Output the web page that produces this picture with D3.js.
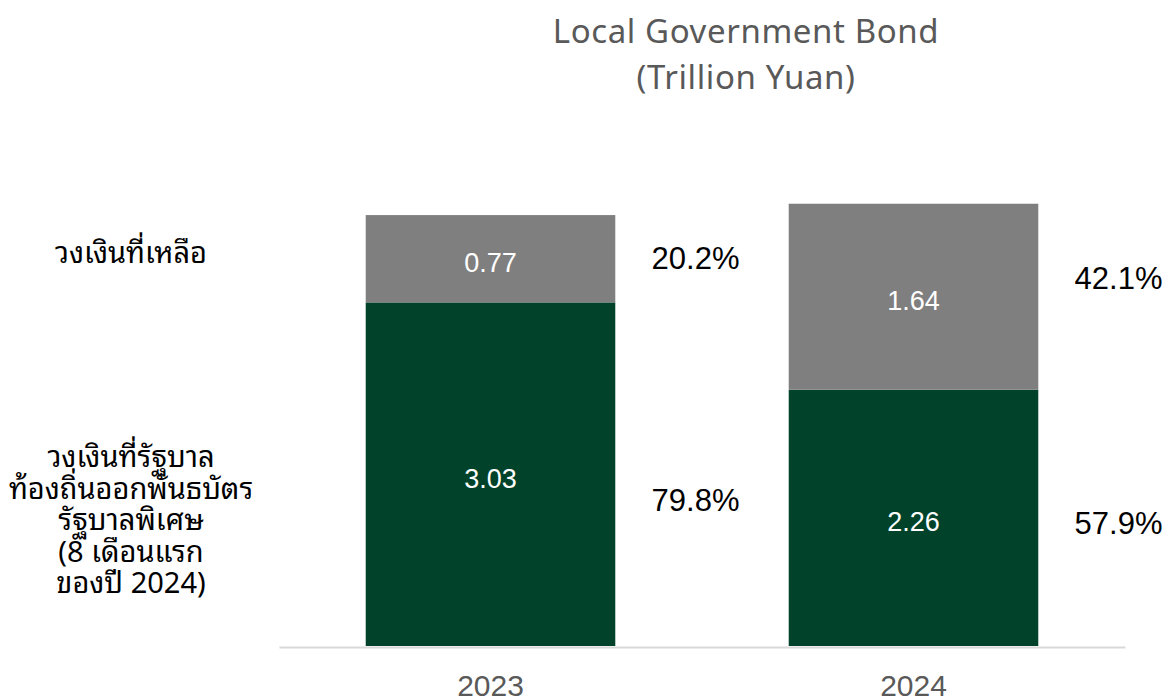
<!DOCTYPE html>
<html>
<head>
<meta charset="utf-8">
<script src="https://cdn.jsdelivr.net/npm/d3@7"></script>
<style>
  html, body { margin: 0; padding: 0; background: #fff; }
  svg { display: block; }
</style>
</head>
<body>
<svg id="chart" width="1176" height="700"></svg>
<script>
// Years on the x axis
const years = ["2023", "2024"];
// Quota already issued as special bonds (first 8 months), trillion yuan
const issued = [3.03, 2.26];
// Remaining quota, trillion yuan
const remaining = [0.77, 1.64];
// Shares of the total quota
const issuedPct = ["79.8%", "57.9%"];
const remainingPct = ["20.2%", "42.1%"];
// Row labels on the left
const remainingLabel = ["วงเงินที่เหลือ"];
const issuedLabel = ["วงเงินที่รัฐบาล", "ท้องถิ่นออกพันธบัตร", "รัฐบาลพิเศษ", "(8 เดือนแรก", "ของปี 2024)"];
const titleLines = ["Local Government Bond", "(Trillion Yuan)"];

const svg = d3.select("#chart");
const latin = "'Liberation Sans', 'Noto Sans', sans-serif";
const thai = "'Noto Sans Thai Looped', 'Noto Sans Thai', 'Noto Sans', sans-serif";

const x = d3.scaleBand()
  .domain(years)
  .range([279, 1125])
  .paddingInner(0.41)
  .paddingOuter(0.205);

const y = d3.scaleLinear()
  .domain([0, 4])
  .range([646, 192.4]);

// Stack: issued at the bottom, remaining on top
const rows = years.map((yr, i) => ({ year: yr, issued: issued[i], remaining: remaining[i] }));
const stack = d3.stack().keys(["issued", "remaining"])(rows);
const colors = { issued: "#00432a", remaining: "#7f7f7f" };

const layers = svg.append("g").selectAll("g")
  .data(stack)
  .join("g")
  .attr("fill", d => colors[d.key]);

layers.selectAll("rect")
  .data(d => d)
  .join("rect")
  .attr("x", d => x(d.data.year))
  .attr("width", x.bandwidth())
  .attr("y", d => y(d[1]))
  .attr("height", d => y(d[0]) - y(d[1]));

// Value labels inside the segments
layers.selectAll("text")
  .data(d => d.map(s => ({ s, key: d.key })))
  .join("text")
  .attr("x", d => x(d.s.data.year) + x.bandwidth() / 2)
  .attr("y", d => (y(d.s[0]) + y(d.s[1])) / 2)
  .attr("dy", "0.5em")
  .attr("text-anchor", "middle")
  .attr("fill", "#fff")
  .style("font-family", latin)
  .style("font-size", "27px")
  .text(d => d.s.data[d.key].toFixed(2));

// Share labels to the right of each bar (small vertical nudges per label)
const pctNudge = { issued: [26, 5], remaining: [-1, -19] };
const pctText = { issued: issuedPct, remaining: remainingPct };
stack.forEach(layer => {
  svg.append("g").selectAll("text")
    .data(layer)
    .join("text")
    .attr("x", (d, i) => x(d.data.year) + x.bandwidth() / 2 + 205)
    .attr("y", (d, i) => (y(d[0]) + y(d[1])) / 2 + pctNudge[layer.key][i])
    .attr("dy", "0.36em")
    .attr("text-anchor", "middle")
    .attr("fill", "#000")
    .style("font-family", latin)
    .style("font-size", "31px")
    .text((d, i) => pctText[layer.key][i]);
});

// Baseline axis
const xAxis = svg.append("g")
  .attr("transform", `translate(0,${y(0) + 1})`)
  .call(d3.axisBottom(x).tickSize(0).tickPadding(28));
xAxis.select(".domain").attr("stroke", "#d9d9d9").attr("stroke-width", 2);
xAxis.selectAll("text")
  .attr("fill", "#595959")
  .style("font-family", "'Liberation Sans Narrow', 'Liberation Sans', sans-serif")
  .style("font-size", "30px");

// Title
svg.append("text")
  .attr("x", 746)
  .attr("y", 43)
  .attr("text-anchor", "middle")
  .attr("fill", "#595959")
  .style("font-family", "'Noto Sans', sans-serif")
  .style("font-size", "33px")
  .style("letter-spacing", "0.6px")
  .selectAll("tspan")
  .data(titleLines)
  .join("tspan")
  .attr("x", 746)
  .attr("dy", (d, i) => i === 0 ? 0 : 46)
  .text(d => d);

// Row labels
function rowLabel(lines, baseY) {
  svg.append("text")
    .attr("text-anchor", "middle")
    .attr("fill", "#000")
    .style("font-family", thai)
    .style("font-size", "29px")
    .selectAll("tspan")
    .data(lines)
    .join("tspan")
    .attr("x", 131)
    .attr("y", (d, i) => baseY + i * 31.5)
    .text(d => d);
}
rowLabel(remainingLabel, y(issued[0] + remaining[0] / 2) + 4);
rowLabel(issuedLabel, 467);
</script>
</body>
</html>
